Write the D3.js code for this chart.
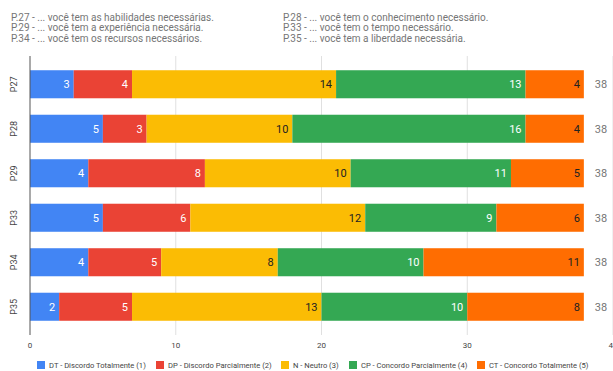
<!DOCTYPE html>
<html>
<head>
<meta charset="utf-8">
<script src="https://cdn.jsdelivr.net/npm/d3@7"></script>
<style>
  body { margin: 0; background: #fff; }
  svg { font-family: Roboto, Arial, sans-serif; }
</style>
</head>
<body>
<svg id="chart"></svg>
<script>
// data
const questions = ['P27', 'P28', 'P29', 'P33', 'P34', 'P35'];
const seriesNames = ['DT - Discordo Totalmente (1)', 'DP - Discordo Parcialmente (2)', 'N - Neutro (3)', 'CP - Concordo Parcialmente (4)', 'CT - Concordo Totalmente (5)'];
const dt = [3, 5, 4, 5, 4, 2];
const dp = [4, 3, 8, 6, 5, 5];
const neutro = [14, 10, 10, 12, 8, 13];
const cp = [13, 16, 11, 9, 10, 10];
const ct = [4, 4, 5, 6, 11, 8];
const xTicks = [0, 10, 20, 30, 40];
const notes = [
    ['P.27 - ... você tem as habilidades necessárias.', 'P.28 - ... você tem o conhecimento necessário.'],
    ['P.29 - ... você tem a experiência necessária.', 'P.33 - ... você tem o tempo necessário.'],
    ['P.34 - ... você tem os recursos necessários.', 'P.35 - ... você tem a liberdade necessária.']
];

const colors = ['#4285F4', '#EA4335', '#FBBC04', '#34A853', '#FF6D01'];
const labelColors = ['#fff', '#fff', '#222', '#fff', '#222'];

const width = 613, height = 371;
const svg = d3.select('#chart').attr('width', width).attr('height', height);

// notes at the top
notes.forEach((row, i) => {
    row.forEach((t, j) => {
        svg.append('text')
            .attr('x', j == 0 ? 11 : 283)
            .attr('y', 20.5 + i * 10.5)
            .attr('font-size', 10)
            .attr('fill', '#757575')
            .text(t);
    });
});

// build stacked table
const keys = ['dt', 'dp', 'neutro', 'cp', 'ct'];
const cols = [dt, dp, neutro, cp, ct];
const table = questions.map((q, i) => {
    let row = { q: q };
    keys.forEach((k, j) => row[k] = cols[j][i]);
    return row;
});
const stacked = d3.stack().keys(keys)(table);

const xScale = d3.scaleLinear().domain([0, 40]).range([30, 613]);
const yScale = d3.scaleBand()
    .domain(questions)
    .range([56, 335])
    .paddingInner(0.37)
    .paddingOuter(0.32);

// gridlines
svg.append('g')
    .selectAll('line')
    .data(xTicks.slice(1))
    .join('line')
    .attr('x1', d => xScale(d)).attr('x2', d => xScale(d))
    .attr('y1', 56).attr('y2', 335)
    .attr('stroke', '#e0e0e0');

// bars
const groups = svg.append('g')
    .selectAll('g')
    .data(stacked)
    .join('g')
    .attr('fill', (d, i) => colors[i]);

groups.selectAll('rect')
    .data(d => d)
    .join('rect')
    .attr('x', d => xScale(d[0]))
    .attr('y', d => yScale(d.data.q))
    .attr('width', d => xScale(d[1]) - xScale(d[0]))
    .attr('height', yScale.bandwidth());

// value labels
stacked.forEach((s, i) => {
    svg.append('g')
        .selectAll('text')
        .data(s)
        .join('text')
        .attr('x', d => xScale(d[1]) - 4)
        .attr('y', d => yScale(d.data.q) + yScale.bandwidth() / 2)
        .attr('dy', '0.35em')
        .attr('text-anchor', 'end')
        .attr('font-size', 11)
        .attr('fill', labelColors[i])
        .text(d => d[1] - d[0]);
});

// totals
svg.append('g')
    .selectAll('text')
    .data(table)
    .join('text')
    .attr('x', d => xScale(d3.sum(keys, k => d[k])) + 11)
    .attr('y', d => yScale(d.q) + yScale.bandwidth() / 2)
    .attr('dy', '0.35em')
    .attr('font-size', 11)
    .attr('fill', '#757575')
    .text(d => d3.sum(keys, k => d[k]));

// left axis line
svg.append('line')
    .attr('x1', 30).attr('x2', 30)
    .attr('y1', 56).attr('y2', 335)
    .attr('stroke', '#555');

// category labels
svg.append('g')
    .selectAll('text')
    .data(questions)
    .join('text')
    .attr('transform', d => `translate(17, ${yScale(d) + yScale.bandwidth() / 2}) rotate(-90)`)
    .attr('text-anchor', 'middle')
    .attr('font-size', 9)
    .attr('fill', '#444')
    .text(d => d);

// x tick labels (the last one is cut by the edge, as in the original)
svg.append('g')
    .selectAll('text')
    .data(xTicks)
    .join('text')
    .attr('x', d => xScale(d))
    .attr('y', 348)
    .attr('text-anchor', 'middle')
    .attr('font-size', 8)
    .attr('fill', '#444')
    .text(d => d);

// legend
const legendX = [37, 156, 281, 349, 477];
const legend = svg.append('g')
    .selectAll('g')
    .data(seriesNames)
    .join('g')
    .attr('transform', (d, i) => `translate(${legendX[i]}, 361)`);
legend.append('rect')
    .attr('width', 8).attr('height', 8)
    .attr('fill', (d, i) => colors[i]);
legend.append('text')
    .attr('x', 12).attr('y', 4)
    .attr('dy', '0.35em')
    .attr('font-size', 7.6)
    .attr('fill', '#444')
    .text(d => d);
</script>
</body>
</html>
